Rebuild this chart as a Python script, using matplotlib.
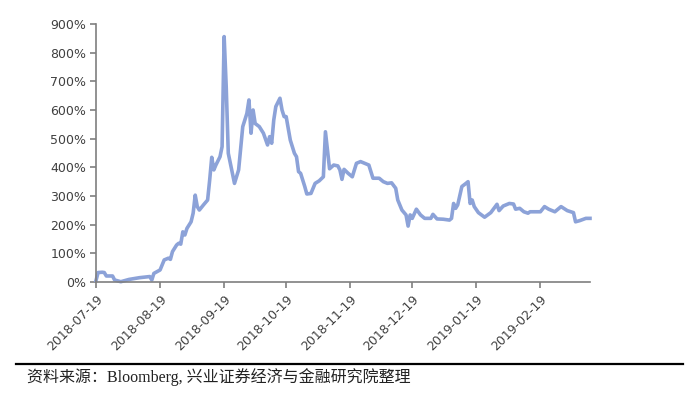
import matplotlib
matplotlib.use("Agg")
import matplotlib.pyplot as plt
from matplotlib.ticker import FuncFormatter
import pandas as pd

start_date = "2018-07-19"
day_offsets = [0, 1, 3, 4, 5, 8, 9, 12, 16, 21, 26, 27, 28, 31, 33, 35, 36, 37, 39, 40,
               41, 42, 43, 44, 46, 47, 48, 49, 50, 52, 54, 55, 56, 57, 58, 60, 61, 62, 63, 64,
               67, 69, 71, 73, 74, 75, 76, 77, 79, 81, 83, 84, 85, 86, 87, 89, 90, 91, 92, 94,
               96, 97, 98, 99, 101, 102, 104, 106, 108, 110, 111, 113, 115, 117, 118, 119, 120, 122, 124, 126,
               128, 130, 132, 134, 137, 139, 141, 143, 145, 146, 148, 150, 151, 152, 153, 155, 157, 159, 162, 163,
               165, 168, 171, 172, 173, 174, 175, 177, 179, 180, 181, 182, 183, 185, 188, 191, 194, 195, 197, 200,
               202, 203, 205, 207, 209, 210, 215, 217, 219, 222, 225, 228, 231, 232, 234, 237, 239]
values_pct = [5, 33, 34, 33, 21, 21, 7, 1, 9, 15, 19, 7, 30, 42, 77, 83, 79, 106, 129, 135,
              132, 175, 164, 187, 210, 240, 303, 263, 251, 269, 286, 356, 435, 391, 408, 437, 472, 856, 681, 449,
              344, 391, 542, 588, 635, 519, 600, 553, 542, 519, 478, 507, 484, 565, 612, 641, 600, 577, 577, 495,
              449, 437, 385, 379, 333, 307, 309, 344, 353, 367, 524, 395, 408, 405, 391, 358, 393, 379, 367, 414,
              420, 414, 408, 362, 362, 350, 344, 346, 327, 286, 251, 234, 195, 234, 222, 254, 234, 222, 222, 236,
              220, 219, 216, 222, 274, 257, 269, 333, 344, 350, 274, 286, 263, 242, 226, 242, 271, 249, 265, 274,
              272, 254, 257, 245, 240, 245, 245, 263, 254, 245, 263, 249, 242, 210, 214, 222, 222]
tick_dates = ["2018-07-19", "2018-08-19", "2018-09-19", "2018-10-19", "2018-11-19",
              "2018-12-19", "2019-01-19", "2019-02-19"]
y_ticks = [0, 100, 200, 300, 400, 500, 600, 700, 800, 900]
source_text = "资料来源：Bloomberg, 兴业证券经济与金融研究院整理"

dates = pd.Timestamp(start_date) + pd.to_timedelta(day_offsets, unit="D")

W, H = 700, 397
fig = plt.figure(figsize=(W / 100, H / 100), dpi=100)
ax = fig.add_axes([96 / W, 1 - 282 / H, (590 - 96) / W, (282 - 24) / H])

ax.plot(dates, values_pct, color="#8CA2D8", lw=2.6, solid_joinstyle="round", clip_on=False)

ax.set_ylim(0, 900)
ax.set_yticks(y_ticks)
ax.yaxis.set_major_formatter(FuncFormatter(lambda v, p: f"{int(v)}%"))
ax.set_xlim(dates[0], dates[-1])
ax.set_xticks(pd.to_datetime(tick_dates))
ax.set_xticklabels(tick_dates)

for s in ["top", "right"]:
    ax.spines[s].set_visible(False)
for s in ["left", "bottom"]:
    ax.spines[s].set_color("#7f7f7f")
    ax.spines[s].set_linewidth(1.2)

ax.tick_params(axis="both", colors="#7f7f7f", labelcolor="#404040", labelsize=9, length=4, width=1.2)
ax.tick_params(axis="y", pad=3)
ax.tick_params(axis="x", pad=4)
for lbl in ax.get_xticklabels():
    lbl.set_rotation(45)
    lbl.set_ha("right")
    lbl.set_va("top")
    lbl.set_rotation_mode("anchor")

# footer line and source text
fig.add_artist(plt.Line2D([16 / W, 683 / W], [1 - 364 / H, 1 - 364 / H], color="black", lw=1.6))
fig.text(27 / W, 1 - 377 / H, source_text, fontsize=11.5, va="center", ha="left", color="#222222",
         family=["Liberation Serif", "Noto Sans CJK SC"])

fig.savefig("out.png", dpi=100, facecolor="white")
